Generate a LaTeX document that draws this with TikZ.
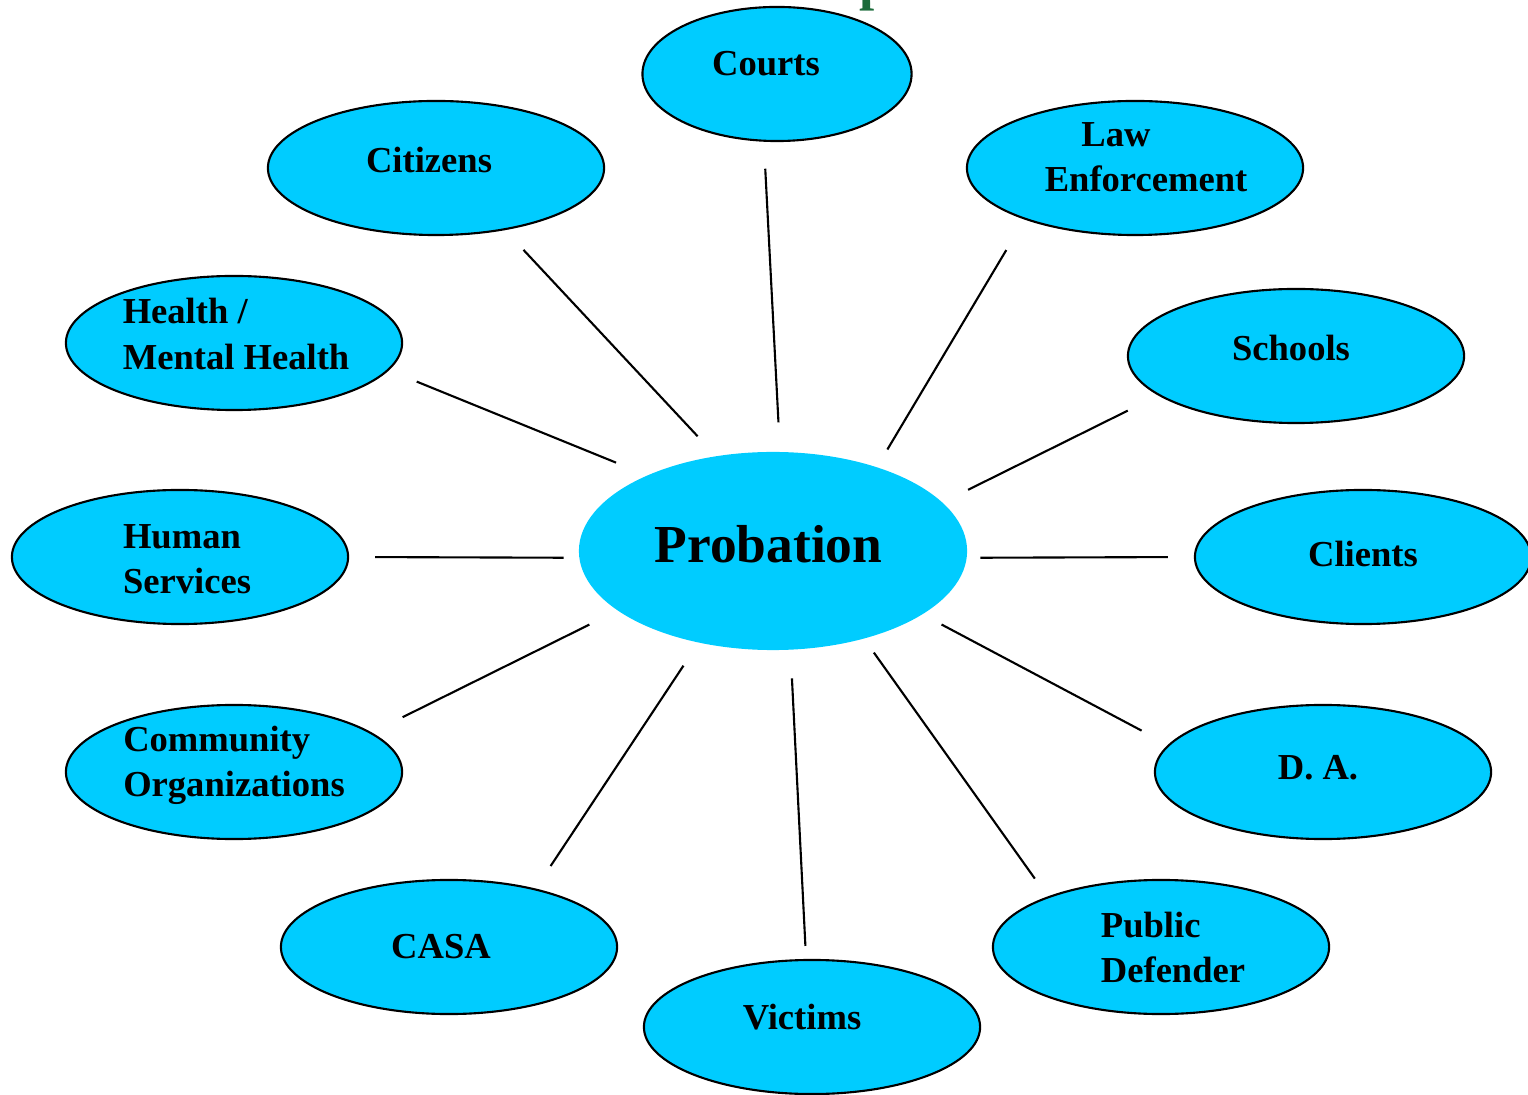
\documentclass[tikz,border=0pt]{standalone}
\usepackage{fontspec}
\setmainfont{Liberation Serif}
\usepackage{tikz}
\usetikzlibrary{shapes.geometric}
\definecolor{skycyan}{HTML}{00CCFF}
\definecolor{titlegreen}{HTML}{1B6B3A}
\tikzset{
  party/.style={ellipse, draw=black, line width=0.6pt, fill=skycyan, minimum width=3.36cm, minimum height=1.34cm, inner sep=0pt},
  tag/.style={align=left, inner sep=0pt, font=\fontsize{10.4}{12.8}\selectfont\bfseries},
  hub/.style={ellipse, fill=skycyan, minimum width=3.88cm, minimum height=1.98cm, inner sep=0pt},
  link/.style={line width=0.6pt, draw=black},
}
\begin{document}
\begin{tikzpicture}[x=0.01cm, y=-0.01cm]
  \useasboundingbox (0,0) rectangle (1528,1095);
  % cut-off title above the chart
  \node[anchor=base, text=titlegreen, font=\fontsize{15.5}{18}\selectfont\bfseries] (title) at (875,0) {p};

  % hub
  \node[hub, label={[inner sep=0pt, font=\fontsize{15.2}{18}\selectfont\bfseries, xshift=-0.045cm, yshift=0.07cm]center:Probation}] (prob) at (773,551) {};

  % partners, clockwise from the top
  \node[party, minimum width=2.69cm, label={[tag, xshift=-0.11cm, yshift=0.10cm]center:Courts}] (courts) at (777,74) {};
  \node[party, label={[tag, xshift=0.11cm, yshift=0.11cm]center:\hspace*{1em}Law\\Enforcement}] (law) at (1135,168) {};
  \node[party, label={[tag, xshift=-0.05cm, yshift=0.08cm]center:Schools}] (schools) at (1296,356) {};
  \node[party, label={[tag, yshift=0.03cm]center:Clients}] (clients) at (1363,557) {};
  \node[party, label={[tag, xshift=-0.05cm, yshift=0.04cm]center:D. A.}] (da) at (1323,772) {};
  \node[party, label={[tag, xshift=0.12cm]center:Public\\Defender}] (public) at (1161,947) {};
  \node[party, label={[tag, xshift=-0.10cm, yshift=0.10cm]center:Victims}] (victims) at (812,1027) {};
  \node[party, label={[tag, xshift=-0.08cm]center:CASA}] (casa) at (449,947) {};
  \node[party, label={[tag, yshift=0.07cm]center:Community\\Organizations}] (community) at (234,772) {};
  \node[party, label={[tag, xshift=0.07cm, yshift=-0.02cm]center:Human\\Services}] (human) at (180,557) {};
  \node[party, label={[tag, xshift=0.02cm, yshift=0.09cm]center:Health /\\Mental Health}] (health) at (234,343) {};
  \node[party, label={[tag, xshift=-0.07cm, yshift=0.08cm]center:Citizens}] (citizens) at (436,168) {};

  % spokes
  \draw[link, shorten <=0.29cm, shorten >=0.27cm] (prob.86) -- (courts.-101);
  \draw[link, shorten <=0.20cm, shorten >=0.355cm] (prob.39) -- (law.-155);
  \draw[link, shorten <=0.28cm, shorten >=0.34cm] (prob.16) -- (schools.-164);
  \draw[link, shorten <=0.13cm, shorten >=0.26cm] (prob.-2) -- (clients.180);
  \draw[link, shorten <=0.21cm, shorten >=0.30cm] (prob.-23) -- (da.170);
  \draw[link, shorten <=0.165cm, shorten >=0.22cm] (prob.-44) -- (public.156);
  \draw[link, shorten <=0.28cm, shorten >=0.13cm] (prob.-80) -- (victims.95);
  \draw[link, shorten <=0.27cm, shorten >=0.27cm] (prob.231) -- (casa.34);
  \draw[link, shorten <=0.31cm, shorten >=0.345cm] (prob.201) -- (community.16);
  \draw[link, shorten <=0.15cm, shorten >=0.26cm] (prob.182) -- (human.0);
  \draw[link, shorten <=0.33cm, shorten >=0.30cm] (prob.149) -- (health.-10);
  \draw[link, shorten <=0.265cm, shorten >=0.27cm] (prob.121) -- (citizens.-42);
\end{tikzpicture}
\end{document}
